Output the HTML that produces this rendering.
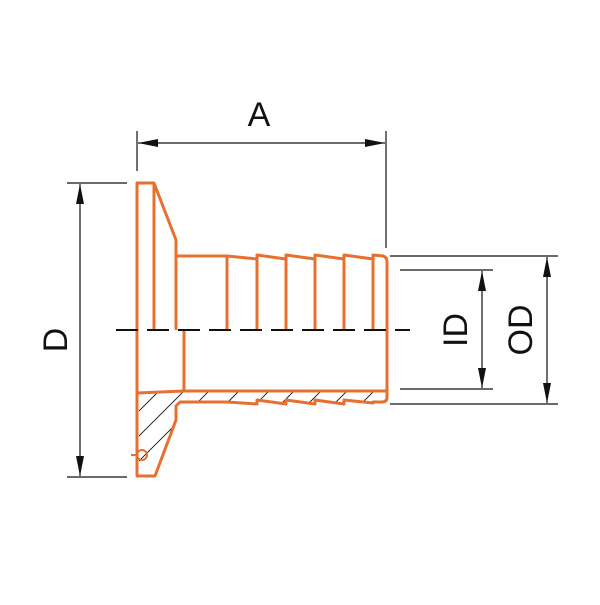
<!DOCTYPE html>
<html><head><meta charset="utf-8"><style>html,body{margin:0;padding:0;background:#fff}</style></head><body>
<svg width="600" height="600" viewBox="0 0 600 600" xmlns="http://www.w3.org/2000/svg">
<defs>
<marker id="ar" viewBox="0 0 20 8" refX="20" refY="4" markerWidth="20" markerHeight="8" markerUnits="userSpaceOnUse" orient="auto-start-reverse"><path d="M0,0 L20,4 L0,8 Z" fill="#111"/></marker>
<clipPath id="hc"><path d="M139,393 L184,391 L386,391 L386,402 L178,402 L176,420 L155,475 L139,475 Z"/></clipPath>
</defs>
<g stroke="#111" stroke-width="1.2" fill="none">
<line x1="137" y1="131" x2="137" y2="171"/>
<line x1="386" y1="131" x2="386" y2="248"/>
<line x1="138" y1="143" x2="385" y2="143" marker-start="url(#ar)" marker-end="url(#ar)"/>
<line x1="67" y1="183" x2="127" y2="183"/>
<line x1="67" y1="477" x2="127" y2="477"/>
<line x1="80" y1="184" x2="80" y2="476" marker-start="url(#ar)" marker-end="url(#ar)"/>
<line x1="400" y1="270" x2="493" y2="270"/>
<line x1="400" y1="389" x2="493" y2="389"/>
<line x1="482" y1="271" x2="482" y2="388" marker-start="url(#ar)" marker-end="url(#ar)"/>
<line x1="390" y1="256" x2="558" y2="256"/>
<line x1="390" y1="404" x2="558" y2="404"/>
<line x1="547" y1="257" x2="547" y2="403" marker-start="url(#ar)" marker-end="url(#ar)"/>
</g>
<g clip-path="url(#hc)" stroke="#111" stroke-width="0.9">
<path d="M130,420 l60,-60 M130,445 l70,-70 M130,470 l80,-80 M140,490 l90,-90 M210,420 l30,-30 M240,420 l30,-30 M265,420 l30,-30 M292,420 l30,-30 M318,420 l30,-30 M345,420 l30,-30 M372,420 l30,-30"/>
</g>
<g stroke="#e8702e" stroke-width="3" fill="none" stroke-linejoin="round">
<path d="M137,183 L154,183 L176,240 L176,256 L227,256 L257,259 L257,255 L286,259 L286,255 L315,259 L315,255 L344,259 L344,255 L373,259 L373,255 L383,256 Q387,257 387,262 L387,397 Q387,402 382,402 L373,402 L373,403 L344,400 L344,404 L315,400 L315,404 L286,400 L286,404 L257,400 L257,404 L227,402 L180,402 L176,406 L176,420 L155,476 L137,476 Z"/>
<line x1="154" y1="183" x2="154" y2="330"/>
<line x1="176" y1="240" x2="176" y2="330"/>
<line x1="227" y1="256" x2="227" y2="330"/>
<line x1="257" y1="256" x2="257" y2="330"/>
<line x1="286" y1="256" x2="286" y2="330"/>
<line x1="315" y1="256" x2="315" y2="330"/>
<line x1="344" y1="256" x2="344" y2="330"/>
<line x1="373" y1="256" x2="373" y2="330"/>
<line x1="184" y1="330" x2="184" y2="391"/>
<path d="M137,393 L184,391 L387,391"/>
<circle cx="142" cy="455" r="5" stroke-width="2"/>
<line x1="131" y1="455" x2="137" y2="455" stroke-width="2"/>
</g>
<line x1="116" y1="330" x2="410" y2="330" stroke="#111" stroke-width="2" stroke-dasharray="22,9"/>
<g font-family="Liberation Sans, sans-serif" font-size="34" fill="#111">
<text x="259" y="126" text-anchor="middle">A</text>
<text transform="translate(67,340) rotate(-90)" text-anchor="middle">D</text>
<text transform="translate(467,330) rotate(-90)" text-anchor="middle">ID</text>
<text transform="translate(532,330) rotate(-90)" text-anchor="middle">OD</text>
</g>
</svg>
</body></html>
